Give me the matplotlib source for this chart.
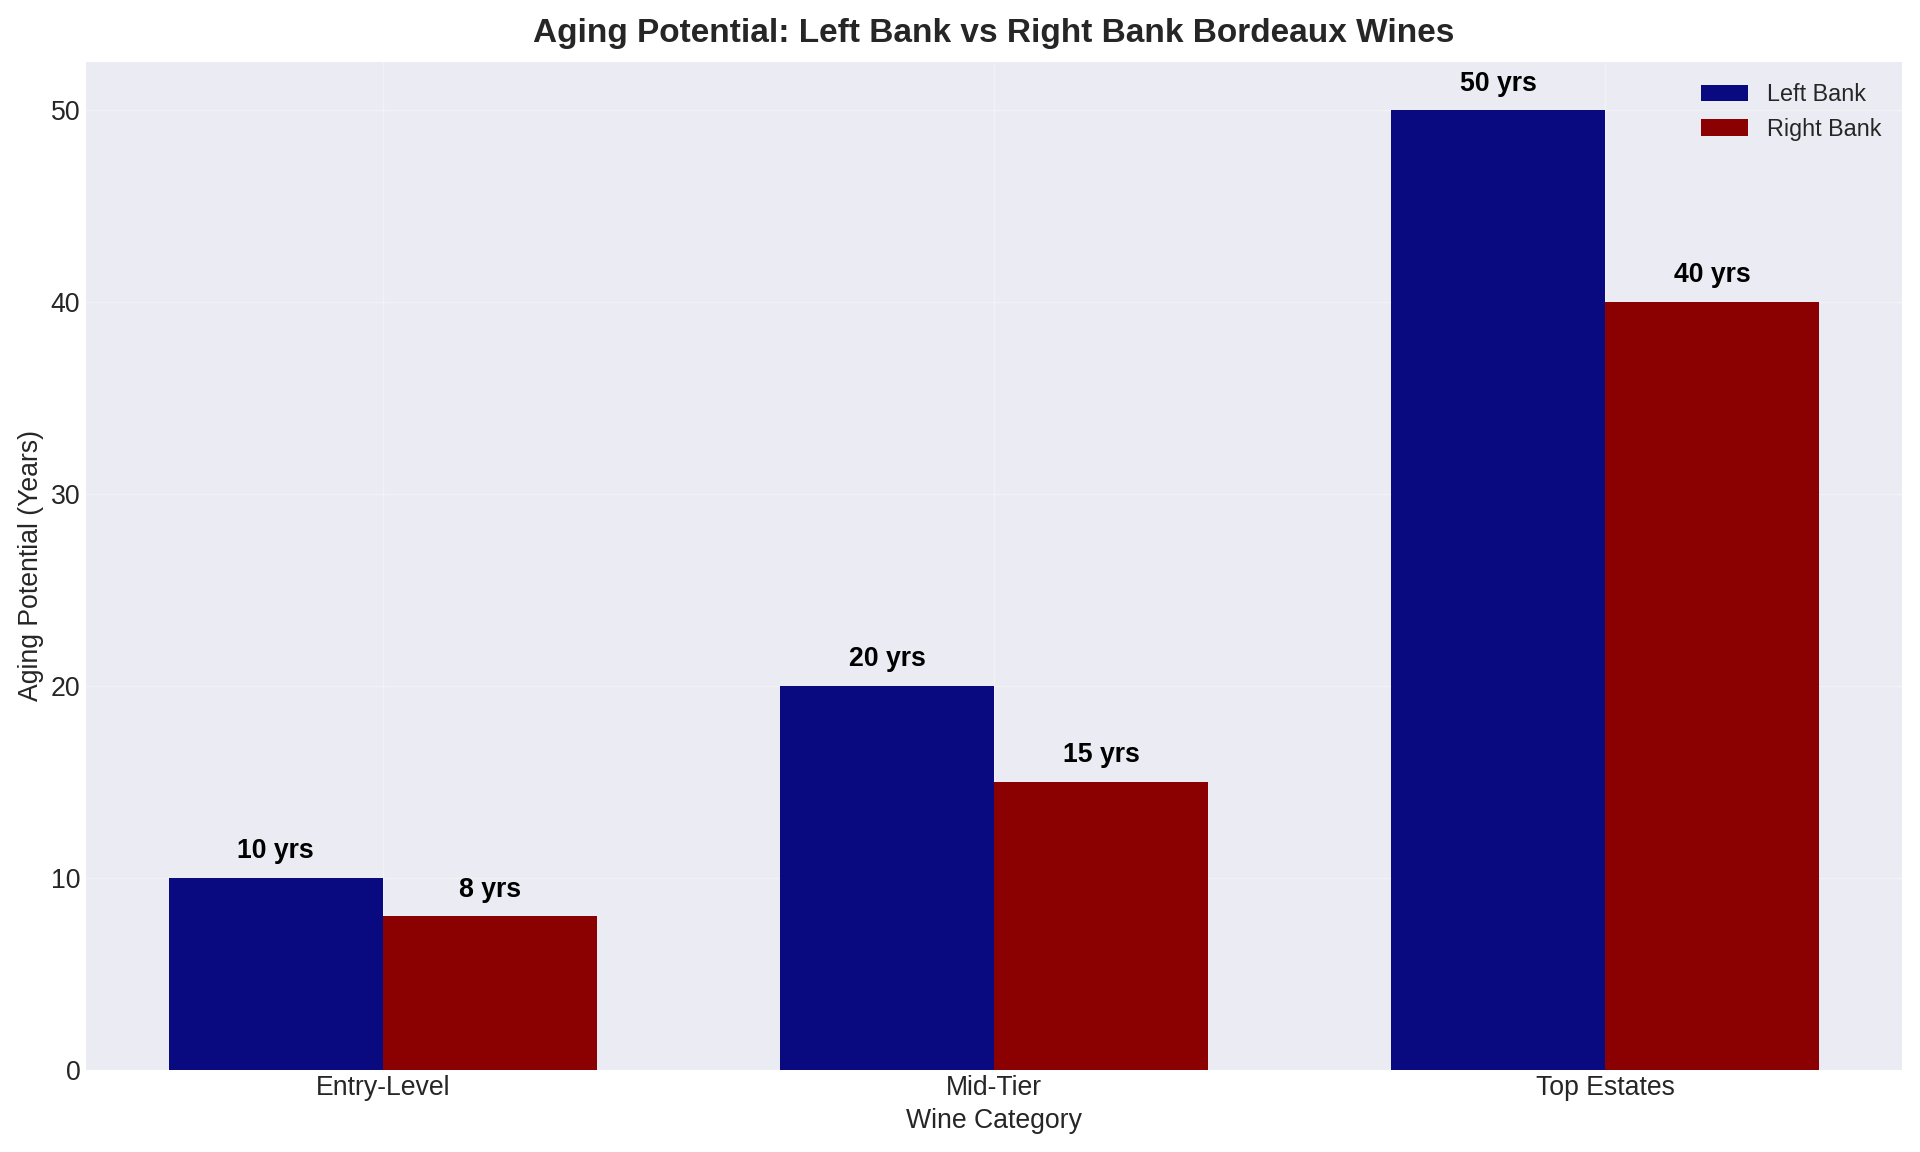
import numpy as np
import matplotlib.pyplot as plt

categories = ["Entry-Level", "Mid-Tier", "Top Estates"]
left_bank = [10, 20, 50]
right_bank = [8, 15, 40]

plt.style.use("seaborn-v0_8-darkgrid")
plt.rcParams['font.family'] = ['Liberation Sans', 'DejaVu Sans']

fig, ax = plt.subplots(figsize=(16, 9.6), dpi=120)
ax.set_facecolor("#ebebf3")
ax.grid(color="white", alpha=0.3)

x = np.arange(len(categories))
w = 0.35
b1 = ax.bar(x - w/2, left_bank, w, color="#0a0a80", label="Left Bank")
b2 = ax.bar(x + w/2, right_bank, w, color="#8b0000", label="Right Bank")

for bars in (b1, b2):
    for b in bars:
        ax.text(b.get_x() + b.get_width()/2, b.get_height() + 0.7, f"{int(b.get_height())} yrs",
                ha="center", va="bottom", fontsize=16, fontweight="bold", color="black")

ax.set_xticks(x)
ax.set_xticklabels(categories, fontsize=16)
ax.tick_params(axis="y", labelsize=16)
ax.set_xlabel("Wine Category", fontsize=16)
ax.set_ylabel("Aging Potential (Years)", fontsize=16)
ax.set_title("Aging Potential: Left Bank vs Right Bank Bordeaux Wines", fontsize=20, fontweight="bold", pad=12)
ax.legend(loc="upper right", fontsize=14)

plt.tight_layout()
plt.savefig("out.png")
